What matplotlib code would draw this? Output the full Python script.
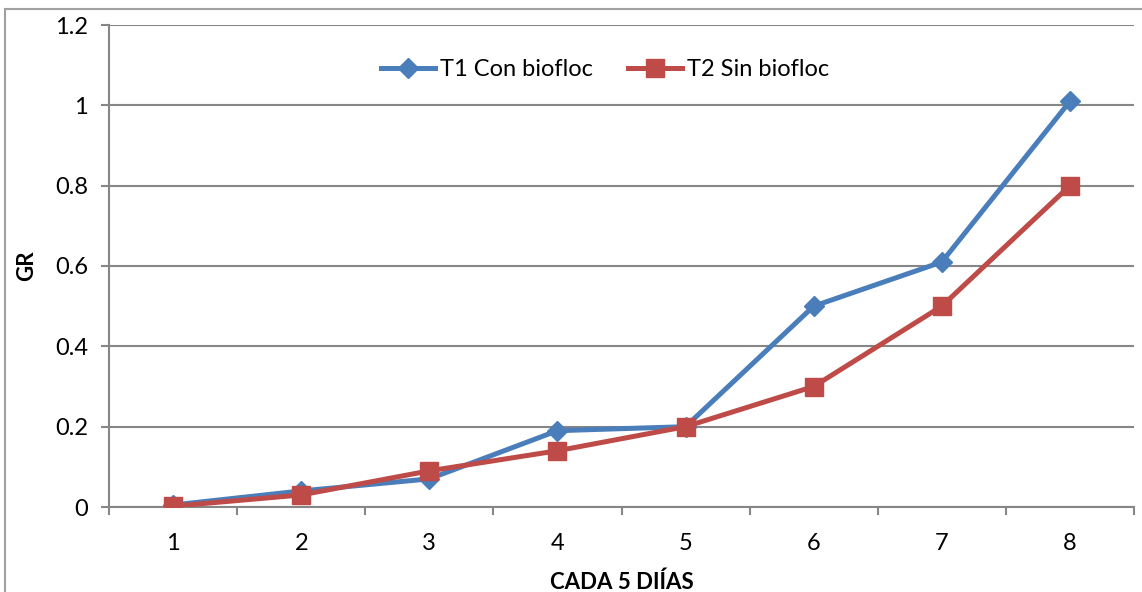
import numpy as np
import matplotlib.pyplot as plt
from matplotlib.lines import Line2D

plt.rcParams['font.family'] = ['Lato', 'DejaVu Sans']

# GR every 5 days, two treatments
dias = [1, 2, 3, 4, 5, 6, 7, 8]
t1_con_biofloc = [0.005, 0.04, 0.07, 0.19, 0.2, 0.5, 0.61, 1.01]
t2_sin_biofloc = [0.002, 0.03, 0.09, 0.14, 0.2, 0.3, 0.5, 0.8]
y_ticks = [0, 0.2, 0.4, 0.6, 0.8, 1.0, 1.2]
y_tick_labels = ["0", "0.2", "0.4", "0.6", "0.8", "1", "1.2"]

azul = "#4A7EBB"
rojo = "#BE4B48"
gris = "#868686"

fig = plt.figure(figsize=(11.42, 5.92), dpi=100)
ax = fig.add_axes([109 / 1142, 1 - 507 / 592, 1025 / 1142, 482 / 592])

# outer chart frame (only top and left edges are inside the canvas)
fig.add_artist(Line2D([5 / 1142, 5 / 1142], [0, 1 - 9 / 592], transform=fig.transFigure,
                      color="#a0a0a0", lw=1.5))
fig.add_artist(Line2D([5 / 1142, 1], [1 - 9 / 592, 1 - 9 / 592], transform=fig.transFigure,
                      color="#a0a0a0", lw=1.5))

x = np.arange(len(dias))
ax.plot(x, t1_con_biofloc, color=azul, lw=3.6, marker="D", ms=10,
        label="T1 Con biofloc", zorder=3, solid_joinstyle="round")
ax.plot(x, t2_sin_biofloc, color=rojo, lw=3.6, marker="s", ms=12.5,
        label="T2 Sin biofloc", zorder=4, solid_joinstyle="round")

ax.set_xlim(-0.5, len(dias) - 0.5)
ax.set_ylim(0, 1.2)
ax.set_yticks(y_ticks)
ax.set_yticklabels(y_tick_labels)
ax.yaxis.grid(True, color=gris, lw=1.5)
ax.set_axisbelow(True)

# category labels centred, ticks between categories
ax.set_xticks(x)
ax.set_xticklabels([str(d) for d in dias])
ax.set_xticks(np.arange(len(dias) + 1) - 0.5, minor=True)
ax.tick_params(axis="x", which="major", length=0, pad=19, labelsize=17)
ax.tick_params(axis="x", which="minor", length=6, width=1.5, color=gris, direction="out")
ax.tick_params(axis="y", length=6, width=1.5, color=gris, pad=9, labelsize=17)

for s in ["top", "right"]:
    ax.spines[s].set_visible(False)
for s in ["left", "bottom"]:
    ax.spines[s].set_color(gris)
    ax.spines[s].set_linewidth(1.5)

ax.set_xlabel("CADA 5 DIÍAS", fontsize=16, fontweight="bold", labelpad=12)
ax.set_ylabel("GR", fontsize=16, fontweight="bold", labelpad=13)

ax.legend(loc="center", bbox_to_anchor=(605 / 1142, 1 - 70 / 592),
          bbox_transform=fig.transFigure, ncol=2, frameon=False,
          fontsize=17, handlelength=2.3, handletextpad=0.2, columnspacing=1.5)

fig.savefig("out.png", dpi=100)
